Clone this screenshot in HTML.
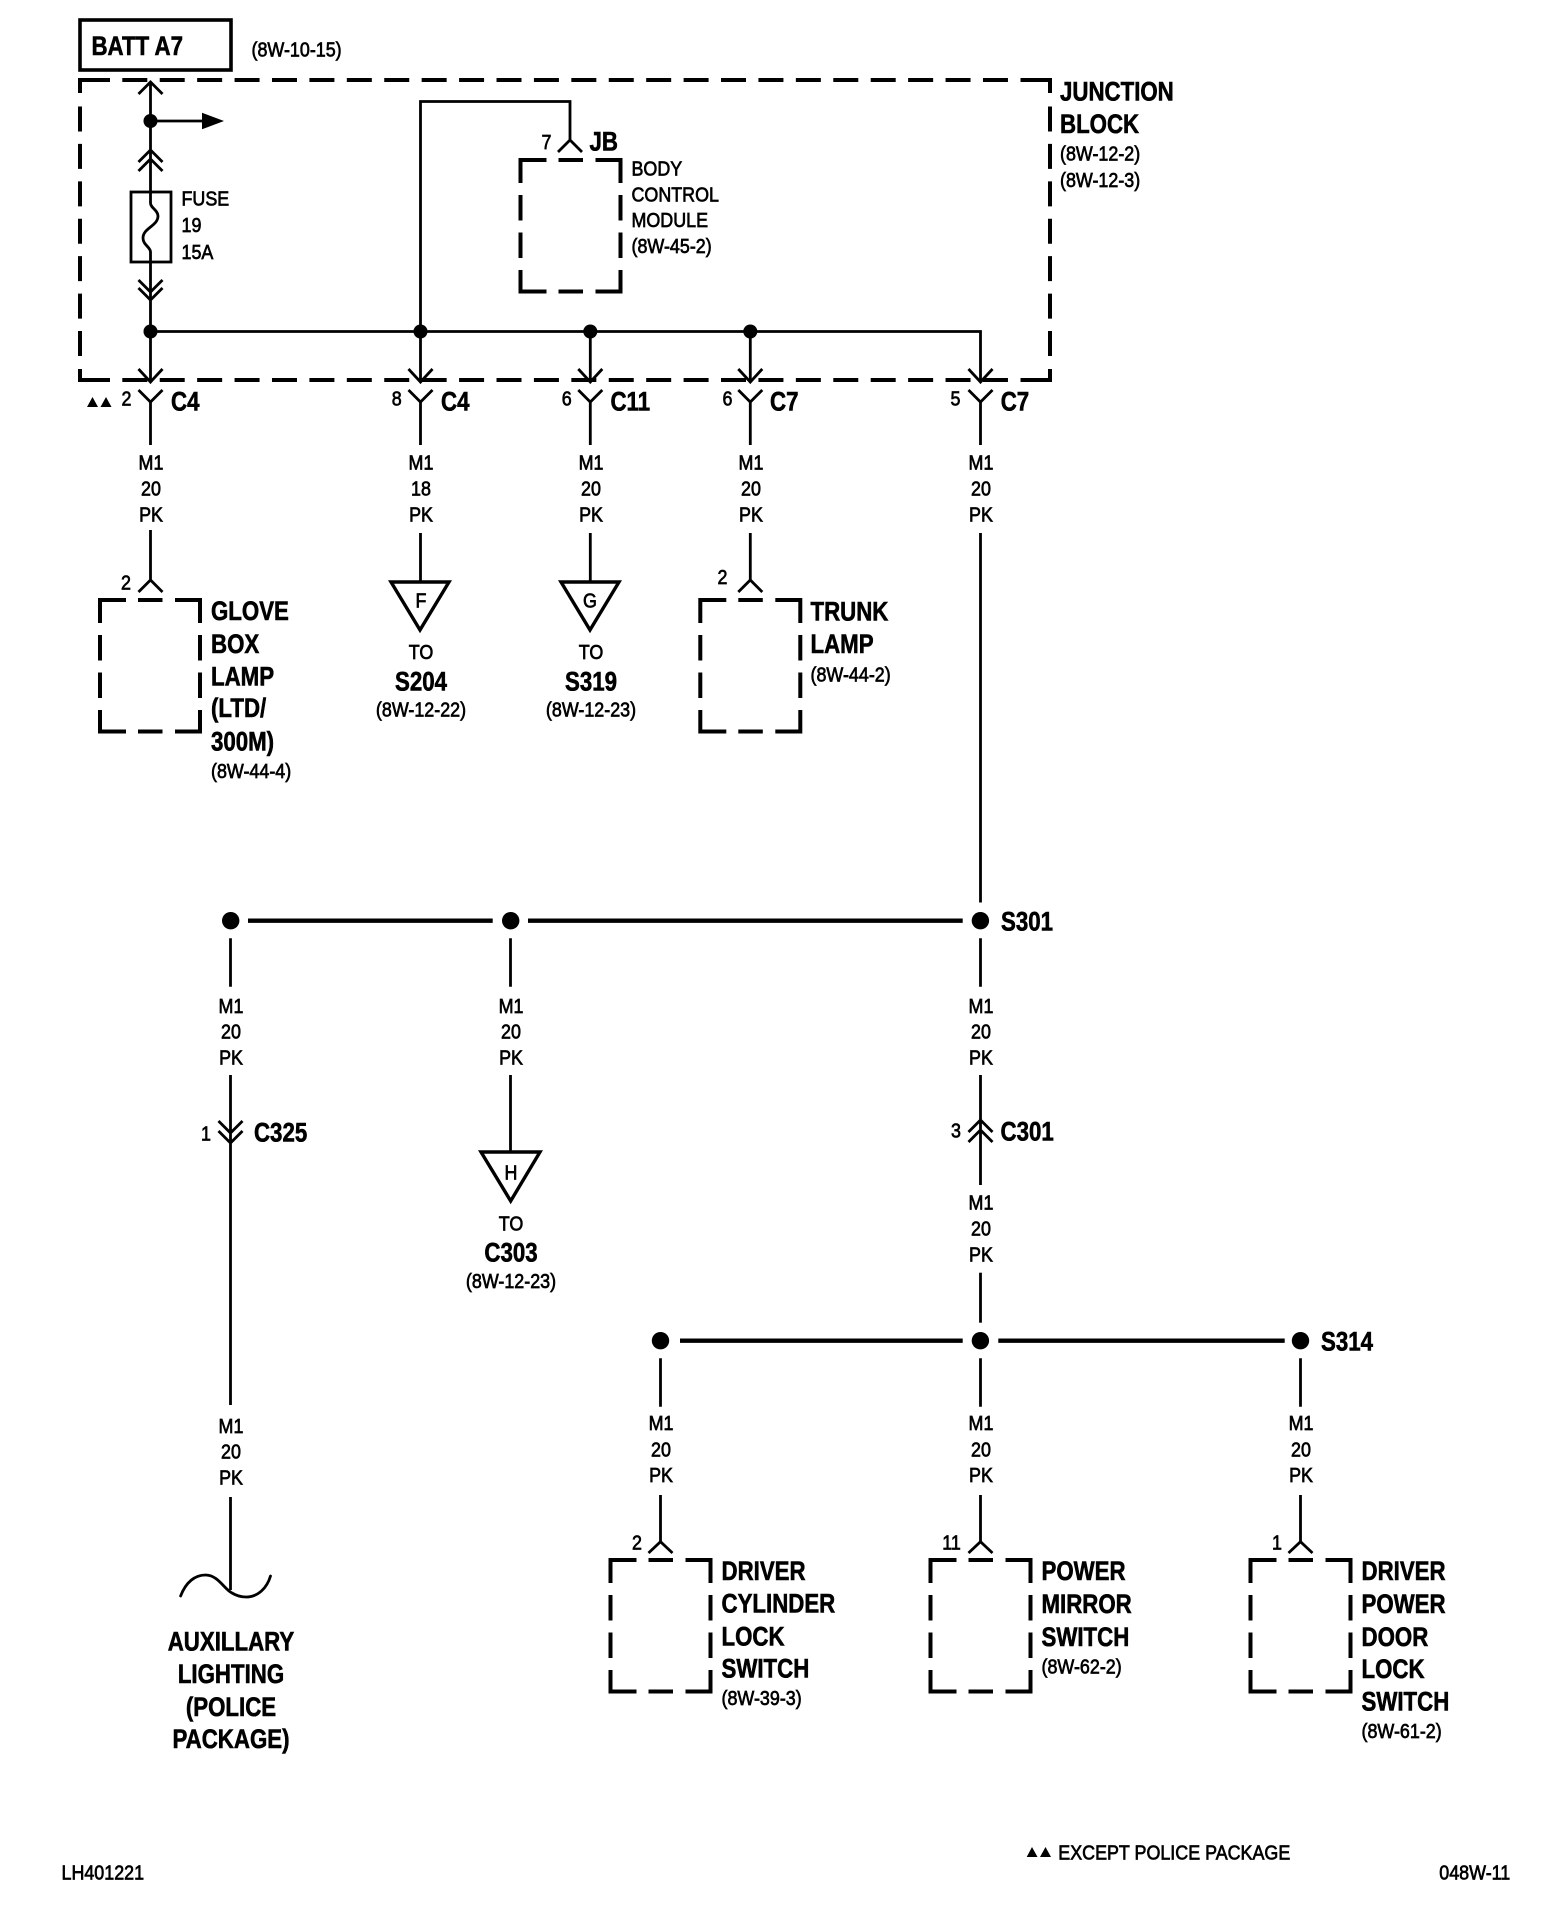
<!DOCTYPE html>
<html><head><meta charset="utf-8"><title>Wiring diagram</title>
<style>
html,body{margin:0;padding:0;background:#fff}
svg{display:block}
text{font-family:"Liberation Sans",sans-serif;fill:#000;stroke:#000;transform-box:fill-box;transform-origin:0 0}
.r{font-size:20.5px;stroke-width:.7;transform:translateY(-1px) scaleX(.873)}
.b{font-size:26.5px;font-weight:bold;stroke-width:.6;transform:scaleX(.84)}
.m{text-anchor:middle;transform-origin:50% 0}
.w{fill:none;stroke:#000;stroke-width:2.8}
.d{fill:none;stroke:#000;stroke-width:4;stroke-linejoin:miter}
.t{fill:none;stroke:#000;stroke-width:4.3}
</style></head><body>
<svg xmlns="http://www.w3.org/2000/svg" width="1568" height="1912" viewBox="0 0 1568 1912">
<rect width="1568" height="1912" fill="#fff"/>
<defs>
<path id="bx" d="M0 23V0H26M38 0H62.5M75 0H100V23M0 35V60.5M0 72.5V98M0 110V131.5H26M38 131.5H62.5M75 131.5H100V110M100 35V60.5M100 72.5V98" fill="none" stroke="#000" stroke-width="4"/>
</defs>

<!-- BATT -->
<rect x="80" y="20" width="151" height="50" fill="none" stroke="#000" stroke-width="3.6"/>
<text class="b" x="91.5" y="55">BATT A7</text>
<text class="r" x="251.5" y="57.5">(8W-10-15)</text>

<!-- Junction block dashed outline -->
<path class="d" d="M80 93V80H110M1020.5 80H1050V93M80 369V380H110M1020.5 380H1050V369"/>
<path class="d" stroke-dasharray="25 12.42" d="M122.3 80H1008M122.3 380H1008M80 106.5V357M1050 106.5V357"/>

<!-- Main wire in JB -->
<path class="w" d="M150.5 82V192M150.5 252V382M138.5 94L150.5 82L162.5 94M138.5 162L150.5 150L162.5 162M138.5 171L150.5 159L162.5 171"/>
<circle cx="150.5" cy="121" r="7"/>
<path class="w" d="M150.5 121H204"/>
<path d="M202 112.7L224 121L202 129.3Z"/>
<rect x="131" y="192" width="40" height="70" fill="#fff" stroke="#000" stroke-width="2.8"/>
<path class="w" d="M150.5 192V203C150.5 208 158 210 158 216C158 226 143 228 143 238C143 245 150.5 247 150.5 252V262"/>
<path class="w" d="M138.5 280L150.5 292L162.5 280M138.5 288L150.5 300L162.5 288"/>
<text class="r" x="181.5" y="206.5">FUSE</text>
<text class="r" x="181.5" y="233">19</text>
<text class="r" x="181.5" y="260">15A</text>

<!-- Bus -->
<path class="w" d="M150.5 331.5H980.5V382"/>
<circle cx="150.5" cy="331.5" r="7"/><circle cx="420.5" cy="331.5" r="7"/><circle cx="590.3" cy="331.5" r="7"/><circle cx="750.3" cy="331.5" r="7"/>
<path class="w" d="M420.5 382V101.5H570V140M558 152L570 140L582 152"/>
<path class="w" d="M590.3 331.5V382M750.3 331.5V382"/>
<!-- lower wires below connectors -->
<path class="w" d="M150.5 402V445M420.5 402V445M590.3 402V445M750.3 402V445M980.5 402V445"/>
<!-- chevrons at JB bottom and connector Y -->
<path class="w" d="M138.5 369L150.5 382L162.5 369M408.5 369L420.5 382L432.5 369M578.3 369L590.3 382L602.3 369M738.3 369L750.3 382L762.3 369M968.5 369L980.5 382L992.5 369"/>
<path class="w" d="M138.5 390L150.5 402L162.5 390M408.5 390L420.5 402L432.5 390M578.3 390L590.3 402L602.3 390M738.3 390L750.3 402L762.3 390M968.5 390L980.5 402L992.5 390"/>

<!-- BCM -->
<use href="#bx" x="520.5" y="160"/>
<text class="r m" x="546.5" y="150">7</text>
<text class="b" x="589.5" y="150.5">JB</text>
<text class="r" x="631.5" y="176.5">BODY</text>
<text class="r" x="631.5" y="202.5">CONTROL</text>
<text class="r" x="631.5" y="228">MODULE</text>
<text class="r" x="631.5" y="254">(8W-45-2)</text>
<text class="b" x="1060" y="100.5">JUNCTION</text>
<text class="b" x="1060" y="133">BLOCK</text>
<text class="r" x="1060" y="161.5">(8W-12-2)</text>
<text class="r" x="1060" y="188">(8W-12-3)</text>

<!-- connector labels -->
<path d="M87 407L92.5 397L98 407ZM100.5 407L106 397L111.5 407Z"/>
<text class="r m" x="126.5" y="406.5">2</text><text class="b" x="171" y="410.5">C4</text>
<text class="r m" x="396.7" y="406.5">8</text><text class="b" x="441" y="410.5">C4</text>
<text class="r m" x="566.7" y="406.5">6</text><text class="b" x="610.5" y="410.5">C11</text>
<text class="r m" x="727.5" y="406.5">6</text><text class="b" x="770" y="410.5">C7</text>
<text class="r m" x="955.5" y="406.5">5</text><text class="b" x="1000.7" y="410.5">C7</text>

<!-- wire labels row 1 -->
<g>
<text class="r m" x="151" y="470.5">M1</text><text class="r m" x="151" y="496.5">20</text><text class="r m" x="151" y="522.5">PK</text>
<text class="r m" x="421" y="470.5">M1</text><text class="r m" x="421" y="496.5">18</text><text class="r m" x="421" y="522.5">PK</text>
<text class="r m" x="591" y="470.5">M1</text><text class="r m" x="591" y="496.5">20</text><text class="r m" x="591" y="522.5">PK</text>
<text class="r m" x="751" y="470.5">M1</text><text class="r m" x="751" y="496.5">20</text><text class="r m" x="751" y="522.5">PK</text>
<text class="r m" x="981" y="470.5">M1</text><text class="r m" x="981" y="496.5">20</text><text class="r m" x="981" y="522.5">PK</text>
</g>

<!-- Glove box -->
<path class="w" d="M150.5 530V580M138.5 592L150.5 580L162.5 592"/>
<text class="r m" x="126" y="590.5">2</text>
<use href="#bx" x="100" y="600"/>
<text class="b" x="211" y="620">GLOVE</text>
<text class="b" x="211" y="653">BOX</text>
<text class="b" x="211" y="685.5">LAMP</text>
<text class="b" x="211" y="717">(LTD/</text>
<text class="b" x="211" y="750.5">300M)</text>
<text class="r" x="211" y="779">(8W-44-4)</text>

<!-- F, G -->
<path class="w" d="M420.5 533V581M590.3 533V581"/>
<path d="M391 582H449L420 630ZM561 582H619L590 630Z" fill="none" stroke="#000" stroke-width="3.4"/>
<text class="r m" x="421" y="608.5">F</text>
<text class="r m" x="590" y="608.5">G</text>
<text class="r m" x="421" y="660">TO</text><text class="b m" x="421" y="690.5">S204</text><text class="r m" x="421" y="717.5">(8W-12-22)</text>
<text class="r m" x="591" y="660">TO</text><text class="b m" x="591" y="690.5">S319</text><text class="r m" x="591" y="717.5">(8W-12-23)</text>

<!-- Trunk -->
<path class="w" d="M750.3 533V580M738.3 592L750.3 580L762.3 592"/>
<text class="r m" x="722.5" y="585">2</text>
<use href="#bx" x="700.3" y="600"/>
<text class="b" x="810.5" y="620.5">TRUNK</text>
<text class="b" x="810.5" y="653">LAMP</text>
<text class="r" x="810.5" y="682.5">(8W-44-2)</text>

<!-- S301 row -->
<path class="w" d="M980.5 533V902.5"/>
<path class="t" d="M248 920.7H492.7M528 920.7H962.7"/>
<circle cx="230.7" cy="920.7" r="8.7"/><circle cx="510.7" cy="920.7" r="8.7"/><circle cx="980.4" cy="920.7" r="8.7"/>
<text class="b" x="1001" y="930.5">S301</text>
<path class="w" d="M230.5 938.3V986.7M510.5 938.3V986.7M980.5 938.3V986.7"/>
<text class="r m" x="231" y="1014">M1</text><text class="r m" x="231" y="1039.5">20</text><text class="r m" x="231" y="1065.5">PK</text>
<text class="r m" x="511" y="1014">M1</text><text class="r m" x="511" y="1039.5">20</text><text class="r m" x="511" y="1065.5">PK</text>
<text class="r m" x="981" y="1014">M1</text><text class="r m" x="981" y="1039.5">20</text><text class="r m" x="981" y="1065.5">PK</text>

<!-- C325 branch -->
<path class="w" d="M230.5 1075V1405M230.5 1497V1590M218.5 1121L230.5 1133L242.5 1121M218.5 1131L230.5 1143L242.5 1131"/>
<text class="r m" x="206" y="1141.5">1</text>
<text class="b" x="254" y="1141.5">C325</text>
<text class="r m" x="231" y="1434">M1</text><text class="r m" x="231" y="1459.5">20</text><text class="r m" x="231" y="1485.5">PK</text>
<path class="w" stroke-linecap="round" d="M180.6 1596C186 1582 195 1575 205.5 1575C218 1575 224 1589 232 1593C237 1596 241 1597 246 1597C258 1597 267 1588 270.5 1576"/>
<text class="b m" x="231" y="1650.5">AUXILLARY</text>
<text class="b m" x="231" y="1683">LIGHTING</text>
<text class="b m" x="231" y="1716">(POLICE</text>
<text class="b m" x="231" y="1748">PACKAGE)</text>

<!-- H branch -->
<path class="w" d="M510.5 1075V1152"/>
<path d="M481 1152H540L510.7 1201Z" fill="none" stroke="#000" stroke-width="3.4"/>
<text class="r m" x="511" y="1180.5">H</text>
<text class="r m" x="511" y="1231.5">TO</text>
<text class="b m" x="511" y="1261.5">C303</text>
<text class="r m" x="511" y="1289">(8W-12-23)</text>

<!-- C301 -->
<path class="w" d="M980.5 1075V1185M968.5 1132L980.5 1120L992.5 1132M968.5 1142L980.5 1130L992.5 1142"/>
<text class="r m" x="956" y="1138.5">3</text>
<text class="b" x="1000.5" y="1140.5">C301</text>
<text class="r m" x="981" y="1210.5">M1</text><text class="r m" x="981" y="1236.5">20</text><text class="r m" x="981" y="1262.5">PK</text>
<path class="w" d="M980.5 1272.7V1322.7"/>

<!-- S314 row -->
<path class="t" d="M680 1340.7H962.7M998.3 1340.7H1284.7"/>
<circle cx="660.5" cy="1340.7" r="8.7"/><circle cx="980.4" cy="1340.7" r="8.7"/><circle cx="1300.5" cy="1340.7" r="8.7"/>
<text class="b" x="1321" y="1350.5">S314</text>
<path class="w" d="M660.5 1358.3V1406.7M980.5 1358.3V1406.7M1300.5 1358.3V1406.7"/>
<text class="r m" x="661" y="1431">M1</text><text class="r m" x="661" y="1457.5">20</text><text class="r m" x="661" y="1483">PK</text>
<text class="r m" x="981" y="1431">M1</text><text class="r m" x="981" y="1457.5">20</text><text class="r m" x="981" y="1483">PK</text>
<text class="r m" x="1301" y="1431">M1</text><text class="r m" x="1301" y="1457.5">20</text><text class="r m" x="1301" y="1483">PK</text>
<path class="w" d="M660.5 1495V1541.7M648.5 1553L660.5 1541.7L672.5 1553M980.5 1495V1541.7M968.5 1553L980.5 1541.7L992.5 1553M1300.5 1495V1541.7M1288.5 1553L1300.5 1541.7L1312.5 1553"/>

<!-- bottom components -->
<use href="#bx" x="610.5" y="1560"/>
<text class="r m" x="637" y="1550.5">2</text>
<text class="b" x="721.5" y="1580">DRIVER</text>
<text class="b" x="721.5" y="1612.5">CYLINDER</text>
<text class="b" x="721.5" y="1645.5">LOCK</text>
<text class="b" x="721.5" y="1677.5">SWITCH</text>
<text class="r" x="721.5" y="1706">(8W-39-3)</text>

<use href="#bx" x="930.5" y="1560"/>
<text class="r m" x="951.5" y="1550.5">11</text>
<text class="b" x="1041.5" y="1580">POWER</text>
<text class="b" x="1041.5" y="1613">MIRROR</text>
<text class="b" x="1041.5" y="1646">SWITCH</text>
<text class="r" x="1041.5" y="1674.5">(8W-62-2)</text>

<use href="#bx" x="1250.5" y="1560"/>
<text class="r m" x="1277" y="1550.5">1</text>
<text class="b" x="1361.5" y="1580">DRIVER</text>
<text class="b" x="1361.5" y="1613">POWER</text>
<text class="b" x="1361.5" y="1646">DOOR</text>
<text class="b" x="1361.5" y="1678">LOCK</text>
<text class="b" x="1361.5" y="1710.5">SWITCH</text>
<text class="r" x="1361.5" y="1739">(8W-61-2)</text>

<!-- footer -->
<path d="M1026.7 1857L1032 1847L1037.5 1857ZM1040 1857L1045.5 1847L1051 1857Z"/>
<text class="r" x="1058.3" y="1860.5">EXCEPT POLICE PACKAGE</text>
<text class="r" x="1439.3" y="1880.5">048W-11</text>
<text class="r" x="61.5" y="1880.5">LH401221</text>
</svg>
</body></html>
